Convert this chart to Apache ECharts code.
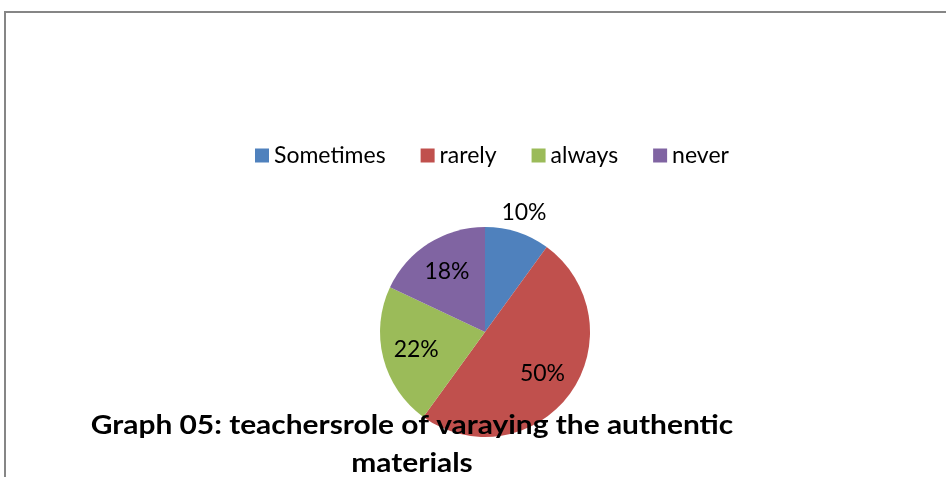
<!DOCTYPE html>
<html>
<head>
<meta charset="utf-8">
<script src="https://cdn.jsdelivr.net/npm/echarts@6/dist/echarts.min.js"></script>
<style>
  html, body { margin: 0; padding: 0; background: #ffffff; }
  #chart { width: 946px; height: 477px; }
</style>
</head>
<body>
<div id="chart"></div>
<script>
// Responses for "teachers' role of varying the authentic materials"
const categories = ['Sometimes', 'rarely', 'always', 'never'];
const shares = [10, 50, 22, 18];
const colors = ['#4F81BD', '#C0504D', '#9BBB59', '#8064A2'];
const titleText = 'Graph 05: teachersrole of varaying the authentic\nmaterials';

const FONT = 'Lato, "Liberation Sans", sans-serif';

const pieData = categories.map((name, i) => ({
  name: name,
  value: shares[i],
  itemStyle: { color: colors[i] }
}));

// Transparent helper pies that only carry the percentage labels at the wanted radius
const innerLabelData = categories.map((name, i) => ({
  name: name,
  value: shares[i],
  label: { show: i !== 0 }
}));
const outerLabelData = categories.map((name, i) => ({
  name: name,
  value: shares[i],
  label: { show: i === 0 }
}));

const labelStyle = {
  position: 'inside',
  formatter: '{d}%',
  color: '#000000',
  fontFamily: FONT,
  fontSize: 23
};

const chart = echarts.init(document.getElementById('chart'), null, { renderer: 'canvas' });
chart.setOption({
  backgroundColor: '#ffffff',
  animation: false,
  legend: {
    data: categories,
    left: 250,
    top: 139,
    itemWidth: 14,
    itemHeight: 14,
    itemGap: 35,
    icon: 'rect',
    textStyle: { fontFamily: FONT, fontSize: 23, color: '#000000', padding: [0, 0, 0, 0] },
    selectedMode: false
  },
  series: [
    {
      type: 'pie',
      center: [485, 332],
      radius: [0, 105],
      startAngle: 90,
      clockwise: true,
      data: pieData,
      label: { show: false },
      labelLine: { show: false },
      itemStyle: { borderWidth: 0 },
      silent: true,
      z: 2
    },
    {
      type: 'pie',
      center: [485, 332],
      radius: [0, 136],
      startAngle: 90,
      clockwise: true,
      data: innerLabelData,
      itemStyle: { color: 'rgba(0,0,0,0)', borderWidth: 0 },
      label: labelStyle,
      labelLine: { show: false },
      silent: true,
      z: 3
    },
    {
      type: 'pie',
      center: [485, 332],
      radius: [0, 246],
      startAngle: 90,
      clockwise: true,
      data: outerLabelData,
      itemStyle: { color: 'rgba(0,0,0,0)', borderWidth: 0 },
      label: labelStyle,
      labelLine: { show: false },
      silent: true,
      z: 3
    }
  ],
  graphic: [
    {
      type: 'rect',
      shape: { x: 5, y: 12, width: 1000, height: 600 },
      style: { fill: 'none', stroke: '#868686', lineWidth: 2 },
      silent: true,
      z: 10
    },
    {
      type: 'text',
      x: 412,
      y: 407,
      scaleX: 1.15,
      z: 20,
      style: {
        text: titleText,
        x: 0,
        y: 0,
        fill: '#000000',
        font: 'bold 26px ' + FONT,
        textAlign: 'center',
        textVerticalAlign: 'top',
        lineHeight: 38
      }
    }
  ]
});
</script>
</body>
</html>
